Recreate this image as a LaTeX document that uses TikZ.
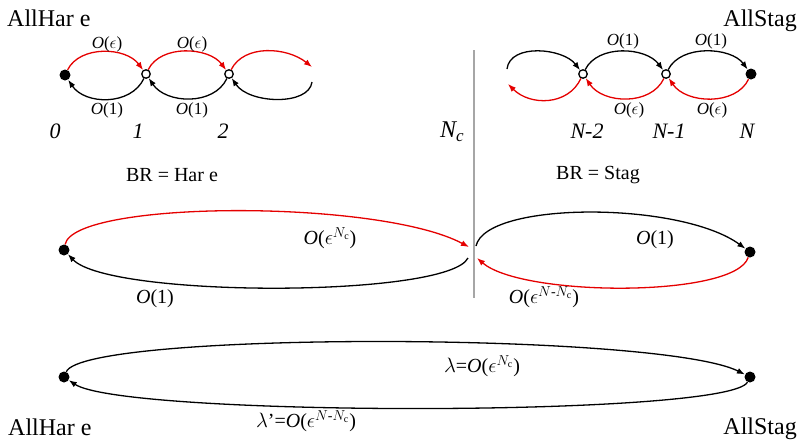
\documentclass[tikz,border=0pt]{standalone}
\usepackage{amsmath}
\usepackage{fontspec}
\setmainfont{Liberation Serif}
\usetikzlibrary{arrows.meta}
\newcommand{\myO}[1]{\textit{O}(#1)}
\begin{document}
\begin{tikzpicture}[x=1pt,y=-1pt,
  dot/.style={circle,fill=black,inner sep=0pt,minimum size=11pt},
  odot/.style={circle,draw=black,fill=white,line width=1.3pt,inner sep=0pt,minimum size=8.5pt},
  arc/.style={line width=1.3pt,-{Latex[length=8pt,width=6pt]}},
  redarc/.style={arc,draw=red!90!black},
  blkarc/.style={arc,draw=black},
  title/.style={font=\fontsize{24}{28}\selectfont,inner sep=0pt},
  small/.style={font=\fontsize{17}{20}\selectfont,inner sep=0pt},
  num/.style={font=\fontsize{22}{26}\selectfont\itshape,inner sep=0pt},
  br/.style={font=\fontsize{20}{24}\selectfont,inner sep=0pt},
  mid/.style={font=\fontsize{20}{24}\selectfont,inner sep=0pt}]
\useasboundingbox (0,0) rectangle (798,445);

% titles
\node[title,anchor=base west] (th1) at (7,26) {AllHar e};
\node[title,anchor=base east] (ts1) at (797,26) {AllStag};
\node[title,anchor=base west] (th2) at (8,435) {AllHar e};
\node[title,anchor=base east] (ts2) at (797,434) {AllStag};

% divider
\coordinate (vtop) at (474,50);
\coordinate (vbot) at (474,298);
\draw[gray!70,line width=2pt] (vtop) -- (vbot);
\node[font=\fontsize{24}{28}\selectfont\itshape,inner sep=0pt] (nc) at (452,132) {N{\fontsize{17}{20}\selectfont\raisebox{-0.5ex}{c}}};

% left chain
\node[dot] (n0) at (65,75) {};
\node[odot] (n1) at (146,74) {};
\node[odot] (n2) at (229,74) {};
\coordinate (e1) at (312,67);
\coordinate (e2) at (312,82);
\draw[redarc] (n0) .. controls +(15,-30) and +(-20,-27) .. (n1);
\draw[redarc] (n1) .. controls +(15,-30) and +(-20,-27) .. (n2);
\draw[redarc] (n2) .. controls +(15,-30) and +(-25,-20) .. (e1);
\draw[blkarc] (n1) .. controls +(-15,32) and +(20,30) .. (n0);
\draw[blkarc] (n2) .. controls +(-15,32) and +(20,30) .. (n1);
\draw[blkarc] (e2) .. controls +(-3,24) and +(20,30) .. (n2);
\node[small] (l1) at (107,44) {\myO{$\epsilon$}};
\node[small] (l2) at (192,44) {\myO{$\epsilon$}};
\node[small] (l3) at (107,110) {\myO{1}};
\node[small] (l4) at (192,110) {\myO{1}};
\node[num] (k0) at (55,131) {0};
\node[num] (k1) at (138,131) {1};
\node[num] (k2) at (223,131) {2};

% right chain
\node[odot] (m2) at (583,74) {};
\node[odot] (m1) at (666,74) {};
\node[dot] (mN) at (751,74) {};
\coordinate (ea) at (507,69);
\coordinate (eb) at (508,84);
\draw[blkarc] (ea) .. controls +(3,-26) and +(-20,-26) .. (m2);
\draw[blkarc] (m2) .. controls +(15,-30) and +(-20,-27) .. (m1);
\draw[blkarc] (m1) .. controls +(15,-30) and +(-20,-27) .. (mN);
\draw[redarc] (mN) .. controls +(-15,32) and +(20,30) .. (m1);
\draw[redarc] (m1) .. controls +(-15,32) and +(20,30) .. (m2);
\draw[redarc] (m2) .. controls +(-15,32) and +(22,22) .. (eb);
\node[small] (r1) at (623,41) {\myO{1}};
\node[small] (r2) at (711,41) {\myO{1}};
\node[small] (r3) at (629,110) {\myO{$\epsilon$}};
\node[small] (r4) at (712,110) {\myO{$\epsilon$}};
\node[num] (q2) at (587,131) {N-2};
\node[num] (q1) at (669,131) {N-1};
\node[num] (qN) at (747,131) {N};

% BR labels
\node[br] (brh) at (172,175) {BR = Har e};
\node[br] (brs) at (598,175) {BR = Stag};

% middle left
\node[dot] (L) at (64,250) {};
\coordinate (ra) at (469,247);
\coordinate (rb) at (468,258);
\draw[redarc] (L) .. controls +(10,-50) and +(-90,-48) .. (ra);
\draw[blkarc] (rb) .. controls +(-20,40) and +(45,48) .. (L);
\node[mid] (ml1) at (330,238) {\myO{$\epsilon^{N_{\mathrm{c}}}$}};
\node[mid] (ml2) at (155,299) {\myO{1}};

% middle right
\node[dot] (R) at (750,252) {};
\coordinate (ba) at (476,246);
\coordinate (rr) at (477,258);
\draw[blkarc] (ba) .. controls +(10,-45) and +(-70,-51) .. (R);
\draw[redarc] (R) .. controls +(-15,46) and +(45,39) .. (rr);
\node[mid] (mr1) at (655,240) {\myO{1}};
\node[mid] (mr2) at (544,297) {\myO{$\epsilon^{N\text{-}N_{\mathrm{c}}}$}};

% bottom
\node[dot] (B1) at (64,377) {};
\node[dot] (B2) at (750,377) {};
\draw[blkarc] (B1) .. controls +(20,-46) and +(-90,-45) .. (B2);
\draw[blkarc] (B2) .. controls +(-20,40) and +(60,40) .. (B1);
\node[mid] (bl1) at (482,366) {$\lambda$=\myO{$\epsilon^{N_{\mathrm{c}}}$}};
\node[mid] (bl2) at (306,421) {$\lambda$’=\myO{$\epsilon^{N\text{-}N_{\mathrm{c}}}$}};
\end{tikzpicture}
\end{document}
